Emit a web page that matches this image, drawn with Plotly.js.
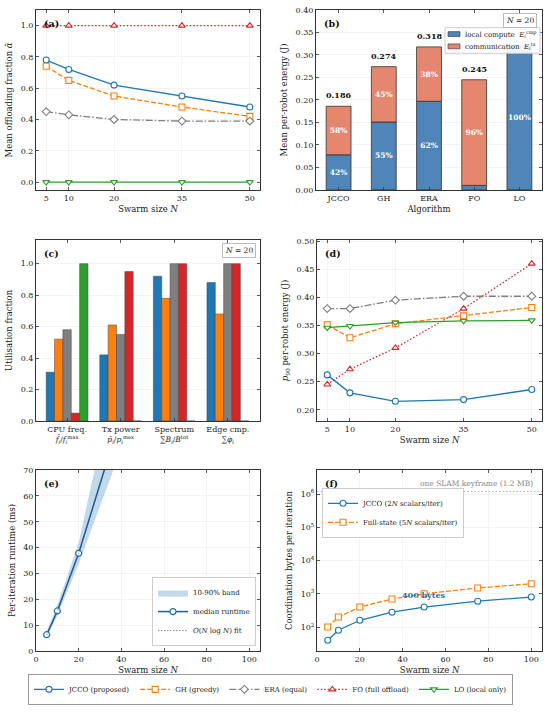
<!DOCTYPE html>
<html><head><meta charset="utf-8">
<script src="https://cdn.plot.ly/plotly-3.0.1.min.js"></script>
<style>html,body{margin:0;padding:0;background:#fff}</style>
</head><body><div id="chart" style="width:550px;height:713px"></div>
<script>
// ---------- data ----------
const swarmN = [5, 10, 20, 35, 50];
const algNames = ['JCCO (proposed)', 'GH (greedy)', 'ERA (equal)', 'FO (full offload)', 'LO (local only)'];
const algShort = ['JCCO', 'GH', 'ERA', 'FO', 'LO'];
// (a) mean offloading fraction
const alphaJCCO = [0.78, 0.72, 0.62, 0.55, 0.48];
const alphaGH   = [0.74, 0.65, 0.55, 0.48, 0.42];
const alphaERA  = [0.45, 0.43, 0.40, 0.39, 0.39];
const alphaFO   = [1.0, 1.0, 1.0, 1.0, 1.0];
const alphaLO   = [0.0, 0.0, 0.0, 0.0, 0.0];
// (b) energy breakdown, N = 20
const energyLocal = [0.078, 0.151, 0.197, 0.010, 0.320];
const energyComm  = [0.108, 0.123, 0.121, 0.235, 0.000];
const energyLegend = ['local compute  <i>E</i><sub><i>i</i></sub><sup>cmp</sup>', 'communication  <i>E</i><sub><i>i</i></sub><sup>tx</sup>'];
// (c) utilisation, N = 20
const utilCats = ['CPU freq.', 'Tx power', 'Spectrum', 'Edge cmp.'];
const utilMath = [
  '<i>f̄</i><sub><i>i</i></sub>/<i>f</i><sub><i>i</i></sub><sup>max</sup>',
  '<i>p̄</i><sub><i>i</i></sub>/<i>p</i><sub><i>i</i></sub><sup>max</sup>',
  '∑<i>B</i><sub><i>i</i></sub>/<i>B</i><sup>tot</sup>',
  '∑<i>φ</i><sub><i>i</i></sub>'];
const utilJCCO = [0.31, 0.42, 0.92, 0.88];
const utilGH   = [0.52, 0.61, 0.78, 0.68];
const utilERA  = [0.58, 0.55, 1.00, 1.00];
const utilFO   = [0.05, 0.95, 1.00, 1.00];
const utilLO   = [1.00, 0.00, 0.00, 0.00];
// (d) p90 per-robot energy
const p90JCCO = [0.262, 0.230, 0.215, 0.218, 0.236];
const p90GH   = [0.351, 0.328, 0.353, 0.367, 0.382];
const p90ERA  = [0.380, 0.380, 0.395, 0.402, 0.402];
const p90FO   = [0.245, 0.272, 0.310, 0.380, 0.460];
const p90LO   = [0.346, 0.349, 0.355, 0.358, 0.359];
// (e) runtime
const runN      = [5, 10, 20, 35, 50];
const runMedian = [6.3, 15.5, 37.8, 78, 125];
const runLow    = [5.2, 13.5, 33.8, 67, 105];
const runHigh   = [7.6, 17.8, 42.0, 97, 155];
const runFit    = [6.1, 15.2, 37.6, 78, 124];
// (f) coordination bytes
const bytesN     = [5, 10, 20, 35, 50, 75, 100];
const bytesJCCO  = [40, 80, 160, 280, 400, 600, 800];
const bytesFull  = [100, 200, 400, 700, 1000, 1500, 2000];
const keyframeBytes = 1.2e6;

// ---------- styles ----------
const FONT = 'DejaVu Serif';
const colors = ['#1f77b4', '#ff7f0e', '#7f7f7f', '#d62728', '#2ca02c'];
const dashes = ['solid', '5px,2px', '7px,2px,1.5px,2px', '1.5px,2px', 'solid'];
const symbols = ['circle', 'square', 'diamond', 'triangle-up', 'triangle-down'];
const barColors = ['#4f85b8', '#e5866e'];

function lineTrace(x, y, i, xa, ya, legend, name) {
  return {
    type: 'scatter', mode: 'lines+markers', x: x, y: y, xaxis: xa, yaxis: ya,
    name: name || algNames[i], showlegend: !!legend, legend: legend || 'legend',
    line: {color: colors[i], width: 1.3, dash: dashes[i]},
    marker: {symbol: symbols[i], size: 6, color: 'white', line: {color: colors[i], width: 1.1}},
    cliponaxis: true
  };
}

const traces = [];
// (a)
[alphaJCCO, alphaGH, alphaERA, alphaFO, alphaLO].forEach((y, i) =>
  traces.push(lineTrace(swarmN, y, i, 'x', 'y', 'legend')));
// (b)
const energyTotal = energyLocal.map((v, i) => v + energyComm[i]);
const pctLocal = energyLocal.map((v, i) => Math.round(100 * v / energyTotal[i]));
const pctComm = energyComm.map((v, i) => Math.round(100 * v / energyTotal[i]));
[[energyLocal, null, pctLocal], [energyComm, energyLocal, pctComm]].forEach(([y, base, pct], k) => {
  const t = {
    type: 'bar', x: algShort, y: y, xaxis: 'x2', yaxis: 'y2', width: 0.55,
    name: energyLegend[k], showlegend: false,
    marker: {color: barColors[k], line: {color: '#333', width: 0.8}},
    text: pct.map(p => p >= 10 ? '<b>' + p + '%</b>' : ''), textposition: 'inside',
    insidetextanchor: 'middle', textangle: 0, constraintext: 'none',
    textfont: {family: FONT, size: 7.5, color: 'white'}, hoverinfo: 'none'
  };
  if (base) t.base = base;
  traces.push(t);
});
// (c)
const barW = 0.156;
[utilJCCO, utilGH, utilERA, utilFO, utilLO].forEach((y, i) => traces.push({
  type: 'bar', x: utilCats, y: y, xaxis: 'x3', yaxis: 'y3', width: barW,
  offset: -2.5 * barW + i * barW, showlegend: false, name: algNames[i],
  marker: {color: colors[i], line: {color: '#444', width: 0.5}}
}));
// (d)
[p90JCCO, p90GH, p90ERA, p90FO, p90LO].forEach((y, i) =>
  traces.push(Object.assign(lineTrace(swarmN, y, i, 'x4', 'y4', null), {showlegend: false})));
// (e)
traces.push({type: 'scatter', mode: 'lines', x: runN, y: runLow, xaxis: 'x5', yaxis: 'y5',
  line: {width: 0, color: 'rgba(31,119,180,0)'}, showlegend: false, hoverinfo: 'none'});
traces.push({type: 'scatter', mode: 'lines', x: runN, y: runHigh, xaxis: 'x5', yaxis: 'y5',
  fill: 'tonexty', fillcolor: 'rgba(31,119,180,0.28)', line: {width: 0, color: 'rgba(31,119,180,0.28)'},
  name: '10-90% band', legend: 'legend3', hoverinfo: 'none'});
traces.push({type: 'scatter', mode: 'lines+markers', x: runN, y: runMedian, xaxis: 'x5', yaxis: 'y5',
  name: 'median runtime', legend: 'legend3',
  line: {color: '#1a5f9e', width: 1.5},
  marker: {symbol: 'circle', size: 6, color: 'white', line: {color: '#1f6fb0', width: 1.2}}});
traces.push({type: 'scatter', mode: 'lines', x: runN, y: runFit, xaxis: 'x5', yaxis: 'y5',
  name: '<i>O</i>(<i>N</i> log <i>N</i>) fit', legend: 'legend3',
  line: {color: '#555', width: 0.7, dash: '1.5px,1.5px'}});
// (f)
traces.push({type: 'scatter', mode: 'lines', x: [0, 105], y: [keyframeBytes, keyframeBytes],
  xaxis: 'x6', yaxis: 'y6', showlegend: false, line: {color: '#aaa', width: 0.9, dash: '1.5px,2px'}, hoverinfo: 'none'});
traces.push(lineTrace(bytesN, bytesJCCO, 0, 'x6', 'y6', 'legend4', 'JCCO (2<i>N</i> scalars/iter)'));
traces.push(lineTrace(bytesN, bytesFull, 1, 'x6', 'y6', 'legend4', 'Full-state (5<i>N</i> scalars/iter)'));

// ---------- layout ----------
const L = 36, R = 8, T = 10, B = 51, W = 550 - L - R, H = 713 - T - B;
const px = p => (p - L) / W;
const py = p => (713 - B - p) / H;

function axis(extra) {
  return Object.assign({
    showline: true, mirror: 'ticks', linecolor: '#333', linewidth: 1,
    ticks: 'inside', ticklen: 3, tickwidth: 0.8, tickcolor: '#333',
    showgrid: true, gridcolor: '#ececec', gridwidth: 0.6, zeroline: false,
    tickfont: {family: FONT, size: 8, color: '#222'}, automargin: false
  }, extra);
}
const tfont = {family: FONT, size: 8.5, color: '#222'};
const lfont = {family: FONT, size: 7, color: '#222'};
const colA = [px(36), px(260)], colB = [px(316), px(542)], colB2 = [px(317), px(542)];
const row1 = [py(193), py(10)], row2 = [py(428), py(244)], row3 = [py(662), py(478)];

const layout = {
  width: 550, height: 713, margin: {l: L, r: R, t: T, b: B},
  paper_bgcolor: 'white', plot_bgcolor: 'white', barmode: 'overlay',
  font: {family: FONT, size: 8, color: '#222'},
  xaxis: axis({domain: colA, anchor: 'y', range: [2.75, 52.25], tickvals: swarmN,
    title: {text: 'Swarm size <i>N</i>', font: tfont, standoff: 4}}),
  yaxis: axis({domain: row1, anchor: 'x', range: [-0.05, 1.1], tickvals: [0, 0.2, 0.4, 0.6, 0.8, 1.0], tickformat: '.1f',
    title: {text: 'Mean offloading fraction <i>ᾱ</i>', font: tfont, standoff: 6}}),
  xaxis2: axis({domain: colB, anchor: 'y2', type: 'category', range: [-0.5, 4.5], showgrid: false,
    title: {text: 'Algorithm', font: tfont, standoff: 4}}),
  yaxis2: axis({domain: row1, anchor: 'x2', range: [0, 0.4], dtick: 0.05, tickformat: '.2f',
    title: {text: 'Mean per-robot energy (J)', font: tfont, standoff: 6}}),
  xaxis3: axis({domain: colA, anchor: 'y3', type: 'category', range: [-0.58, 3.6], showgrid: false,
    tickvals: utilCats,
    ticktext: utilCats.map((c, i) => c + '<br><span style="font-size:7.5px">' + utilMath[i] + '</span>')}),
  yaxis3: axis({domain: row2, anchor: 'x3', range: [0, 1.15], tickvals: [0, 0.2, 0.4, 0.6, 0.8, 1.0], tickformat: '.1f',
    title: {text: 'Utilisation fraction', font: tfont, standoff: 6}}),
  xaxis4: axis({domain: colB2, anchor: 'y4', range: [2.75, 52.25], tickvals: swarmN,
    title: {text: 'Swarm size <i>N</i>', font: tfont, standoff: 4}}),
  yaxis4: axis({domain: row2, anchor: 'x4', range: [0.18, 0.502], dtick: 0.05, tickformat: '.2f',
    title: {text: '<i>p</i><sub>90</sub> per-robot energy (J)', font: tfont, standoff: 6}}),
  xaxis5: axis({domain: colA, anchor: 'y5', range: [0, 105], dtick: 20,
    title: {text: 'Swarm size <i>N</i>', font: tfont, standoff: 4}}),
  yaxis5: axis({domain: row3, anchor: 'x5', range: [0, 70], dtick: 10,
    title: {text: 'Per-iteration runtime (ms)', font: tfont, standoff: 6}}),
  xaxis6: axis({domain: colB2, anchor: 'y6', range: [0, 105], dtick: 20,
    title: {text: 'Swarm size <i>N</i>', font: tfont, standoff: 4}}),
  yaxis6: axis({domain: row3, anchor: 'x6', type: 'log', range: [1.28, 6.72],
    tickvals: [1e2, 1e3, 1e4, 1e5, 1e6],
    ticktext: ['10<sup>2</sup>', '10<sup>3</sup>', '10<sup>4</sup>', '10<sup>5</sup>', '10<sup>6</sup>'],
    title: {text: 'Coordination bytes per iteration', font: tfont, standoff: 6}}),
  legend: {orientation: 'h', x: px(270.5), y: py(701), xanchor: 'center', yanchor: 'middle',
    bordercolor: '#999', borderwidth: 1, bgcolor: 'white', font: lfont, itemwidth: 30, tracegroupgap: 0},
  legend3: {x: px(256), y: py(657), xanchor: 'right', yanchor: 'bottom', bordercolor: '#ccc', borderwidth: 1,
    bgcolor: 'rgba(255,255,255,0.9)', font: lfont, itemwidth: 30, traceorder: 'normal'},
  legend4: {x: px(322), y: py(496), xanchor: 'left', yanchor: 'top', bordercolor: '#ccc', borderwidth: 1,
    bgcolor: 'rgba(255,255,255,0.9)', font: lfont, itemwidth: 30, traceorder: 'normal'},
  annotations: [],
  shapes: []
};
// panel labels
[['(a)', 'x', 'y'], ['(b)', 'x2', 'y2'], ['(c)', 'x3', 'y3'], ['(d)', 'x4', 'y4'], ['(e)', 'x5', 'y5'], ['(f)', 'x6', 'y6']]
  .forEach(([t, xa, ya]) => layout.annotations.push({
    text: '<b>' + t + '</b>', xref: xa + ' domain', yref: ya + ' domain', x: 0.025, y: 0.965,
    xanchor: 'left', yanchor: 'top', showarrow: false, font: {family: FONT, size: 9.5, color: '#111'}}));
// N = 20 boxes
[['x2', 'y2'], ['x3', 'y3']].forEach(([xa, ya]) => layout.annotations.push({
  text: '<i>N</i> = 20', xref: xa + ' domain', yref: ya + ' domain', x: 0.98, y: 0.985,
  xanchor: 'right', yanchor: 'top', showarrow: false, bordercolor: '#bbb', borderwidth: 1, borderpad: 2,
  bgcolor: 'white', font: {family: FONT, size: 7.5, color: '#222'}}));
// totals on bars in (b) (LO label is hidden behind the legend in the reference)
energyTotal.forEach((v, i) => { if (i < 4) layout.annotations.push({
  text: '<b>' + v.toFixed(3) + '</b>', xref: 'x2', yref: 'y2', x: algShort[i], y: v,
  yanchor: 'bottom', yshift: 4, showarrow: false, font: {family: FONT, size: 8, color: '#111'}}); });
// compact legend box for (b)
layout.shapes.push({type: 'rect', xref: 'paper', yref: 'paper', x0: px(445), x1: px(540), y0: py(54), y1: py(28),
  line: {color: '#ccc', width: 1}, fillcolor: 'rgba(255,255,255,0.92)', layer: 'above'});
[34.5, 47].forEach((yy, k) => {
  layout.shapes.push({type: 'rect', xref: 'paper', yref: 'paper', x0: px(448), x1: px(460), y0: py(yy + 2.5), y1: py(yy - 2.5),
    line: {color: '#333', width: 0.6}, fillcolor: barColors[k], layer: 'above'});
  layout.annotations.push({text: energyLegend[k], xref: 'paper', yref: 'paper', x: px(463), y: py(yy),
    xanchor: 'left', yanchor: 'middle', showarrow: false, font: {family: FONT, size: 7, color: '#222'}});
});
// (f) annotations
layout.annotations.push({text: '<b>400 bytes</b>', xref: 'x6', yref: 'y6', x: bytesN[4], y: Math.log10(bytesJCCO[4]),
  yanchor: 'bottom', yshift: 5, showarrow: false, font: {family: FONT, size: 8, color: '#1f6fb0'}});
layout.annotations.push({text: 'one SLAM keyframe (1.2 MB)', xref: 'x6', yref: 'y6', x: 74.5, y: Math.log10(keyframeBytes),
  yanchor: 'bottom', yshift: 1, showarrow: false, font: {family: FONT, size: 7.5, color: '#888'}});

Plotly.newPlot('chart', traces, layout, {staticPlot: true, displayModeBar: false});
</script></body></html>
